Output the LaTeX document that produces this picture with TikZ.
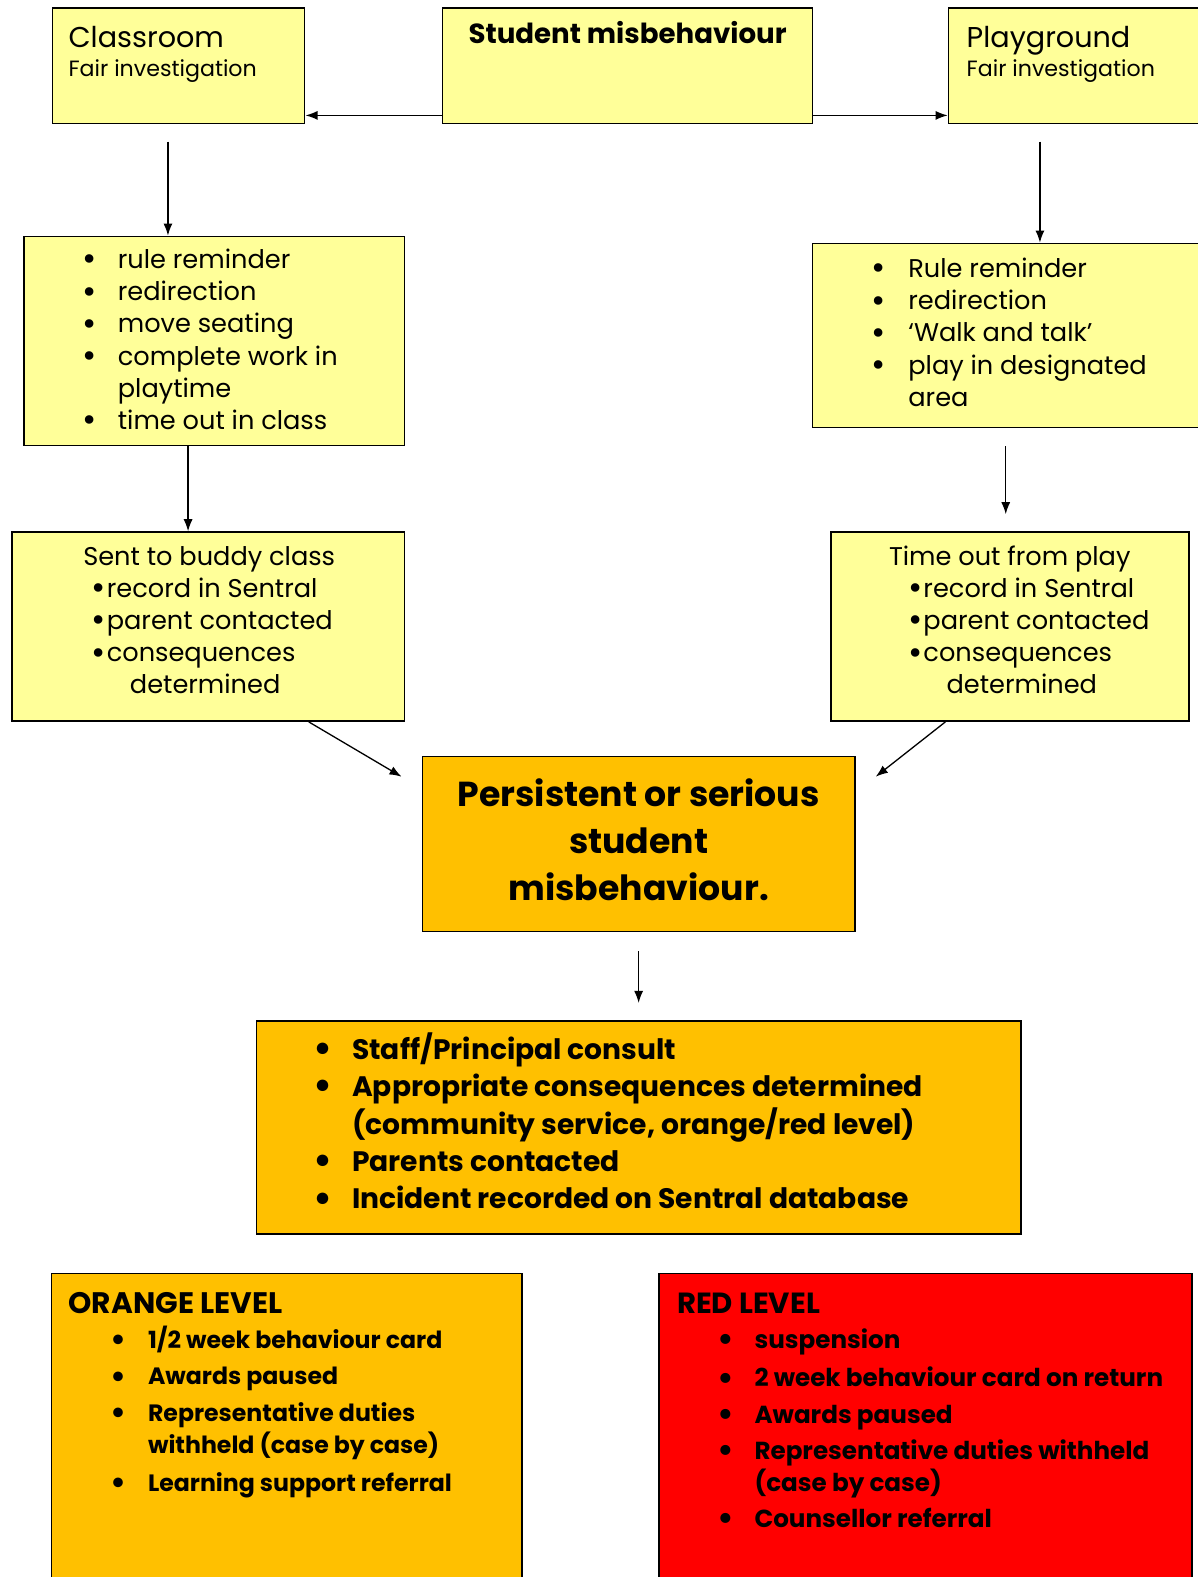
\documentclass[tikz,border=0pt]{standalone}
\usepackage{fontspec}
\setmainfont{Poppins}
\usetikzlibrary{positioning,arrows.meta}
\definecolor{paleyellow}{HTML}{FFFF99}
\definecolor{amber}{HTML}{FFC000}
\definecolor{alarmred}{HTML}{FF0000}
\newcommand{\bul}[1]{\makebox[#1][l]{\raisebox{-0.09em}{\scalebox{1.35}{\textbullet}}}}
\begin{document}
\begin{tikzpicture}[x=1pt,y=-1pt,
  box/.style={draw, line width=1.5pt, inner sep=0pt},
  ybox/.style={box, fill=paleyellow},
  obox/.style={box, fill=amber},
  rbox/.style={box, fill=alarmred},
  txt/.style={inner sep=0pt, anchor=base west, font=\fontsize{25.5}{32}\selectfont},
  arr/.style={-{Latex[length=12pt,width=9pt]}, line width=1.3pt}]
  \fill[white] (0,0) rectangle (1191,1568);
  \useasboundingbox (0,0) rectangle (1191,1568);

  % boxes
  \node[ybox, minimum width=251pt, minimum height=115pt] (class) at (177.5,65.5) {};
  \node[ybox, minimum width=368pt, minimum height=115pt] (stud) at (624,65.5) {};
  \node[ybox, minimum width=256pt, minimum height=115pt] (play) at (1071,65.5) {};
  \node[ybox, minimum width=378pt, minimum height=208pt] (clist) at (213,339) {};
  \node[ybox, minimum width=391pt, minimum height=183pt] (plist) at (1003.5,333.5) {};
  \node[ybox, minimum width=390pt, minimum height=188pt] (buddy) at (207,623) {};
  \node[ybox, minimum width=356pt, minimum height=188pt] (tout) at (1004,623) {};
  \node[obox, minimum width=430pt, minimum height=174pt] (pers) at (635,839) {};
  \node[obox, minimum width=760pt, minimum height=212pt] (cons) at (635,1121) {};
  \node[obox, minimum width=468pt, minimum height=340pt] (orange) at (285,1436) {};
  \node[rbox, minimum width=530pt, minimum height=340pt] (red) at (920,1436) {};

  % texts
  \node[txt, font=\fontsize{28.5}{32}\selectfont] (classT) at (68,47) {Classroom};
  \node[txt, font=\fontsize{22}{24}\selectfont] (classF) at (68,76) {Fair investigation};
  \node[txt, anchor=base, font=\bfseries\fontsize{27.5}{30}\selectfont] (studT) at (624,43) {Student misbehaviour};
  \node[txt, font=\fontsize{28.5}{32}\selectfont] (playT) at (961,47) {Playground};
  \node[txt, font=\fontsize{22}{24}\selectfont] (playF) at (961,76) {Fair investigation};

  \node[txt] (clistT) at (82,267) {\begin{tabular}[t]{@{}l@{}l@{}}
    \bul{35pt} & rule reminder\\
    \bul{35pt} & redirection\\
    \bul{35pt} & move seating\\
    \bul{35pt} & complete work in\\
               & playtime\\
    \bul{35pt} & time out in class
  \end{tabular}};
  \node[txt] (plistT) at (866,276) {\begin{tabular}[t]{@{}l@{}l@{}}
    \bul{37pt} & Rule reminder\\
    \bul{37pt} & redirection\\
    \bul{37pt} & ‘Walk and talk’\\
    \bul{37pt} & play in designated\\
               & area
  \end{tabular}};

  \node[txt, anchor=base] (buddyT) at (208,562) {Sent to buddy class};
  \node[txt] (buddyL) at (91,594) {\begin{tabular}[t]{@{}l@{}l@{}}
    \bul{15pt} & record in Sentral\\
    \bul{15pt} & parent contacted\\
    \bul{15pt} & consequences\\
               & \hspace{23pt}determined
  \end{tabular}};
  \node[txt, anchor=base] (toutT) at (1004,562) {Time out from play};
  \node[txt] (toutL) at (903,594) {\begin{tabular}[t]{@{}l@{}l@{}}
    \bul{15pt} & record in Sentral\\
    \bul{15pt} & parent contacted\\
    \bul{15pt} & consequences\\
               & \hspace{23pt}determined
  \end{tabular}};

  \node[txt, anchor=base, font=\bfseries\fontsize{34.5}{46.5}\selectfont] (persT) at (635,802) {\begin{tabular}[t]{@{}c@{}}
    Persistent or serious\\ student\\ misbehaviour.
  \end{tabular}};

  \node[txt, font=\bfseries\fontsize{28}{37}\selectfont] (consT) at (312,1053) {\begin{tabular}[t]{@{}l@{}l@{}}
    \bul{38pt} & Staff/Principal consult\\
    \bul{38pt} & Appropriate consequences determined\\
               & (community service, orange/red level)\\
    \bul{38pt} & Parents contacted\\
    \bul{38pt} & Incident recorded on Sentral database
  \end{tabular}};

  \node[txt, font=\bfseries\fontsize{29.5}{30}\selectfont] (orangeT) at (68,1306) {ORANGE LEVEL};
  \node[txt, font=\bfseries\fontsize{23.5}{32}\selectfont] (orangeL) at (110,1341) {\begin{tabular}[t]{@{}l@{}l@{}}
    \bul{37pt} & 1/2 week behaviour card\\[4pt]
    \bul{37pt} & Awards paused\\[4pt]
    \bul{37pt} & Representative duties\\
               & withheld (case by case)\\[6pt]
    \bul{37pt} & Learning support referral
  \end{tabular}};
  \node[txt, font=\bfseries\fontsize{29}{30}\selectfont] (redT) at (673,1306) {RED LEVEL};
  \node[txt, font=\bfseries\fontsize{24.5}{32}\selectfont] (redL) at (713,1341) {\begin{tabular}[t]{@{}l@{}l@{}}
    \bul{37pt} & suspension\\[6pt]
    \bul{37pt} & 2 week behaviour card on return\\[4pt]
    \bul{37pt} & Awards paused\\[4pt]
    \bul{37pt} & Representative duties withheld\\
               & (case by case)\\[4pt]
    \bul{37pt} & Counsellor referral
  \end{tabular}};

  % connectors
  \draw[arr] ([yshift=9pt]stud.south west) -- ([yshift=9pt]class.south east);
  \draw[arr] ([yshift=9pt]stud.south east) -- ([yshift=9pt]play.south west);
  \coordinate (clsout) at ([xshift=-10.5pt,yshift=-17pt]class.south);
  \draw[arr] (clsout) -- (clsout |- clist.north);
  \coordinate (plyout) at ([xshift=-37pt,yshift=-17pt]play.south);
  \draw[arr] (plyout) -- (plyout |- plist.north);
  \draw[arr] ([xshift=-26pt]clist.south) -- ([xshift=-20pt]buddy.north);
  \coordinate (plsout) at ([xshift=-3.5pt,yshift=-18pt]plist.south);
  \coordinate (plsend) at (plsout |- tout.north);
  \draw[arr] (plsout) -- ([yshift=17pt]plsend);
  \draw[arr] ([xshift=100pt]buddy.south) -- ([xshift=-20pt,yshift=-21pt]pers.north west);
  \draw[arr] ([xshift=-64pt]tout.south) -- ([xshift=20pt,yshift=-21pt]pers.north east);
  \draw[arr] ([yshift=-19pt]pers.south) -- ([yshift=17pt]cons.north);
\end{tikzpicture}
\end{document}
